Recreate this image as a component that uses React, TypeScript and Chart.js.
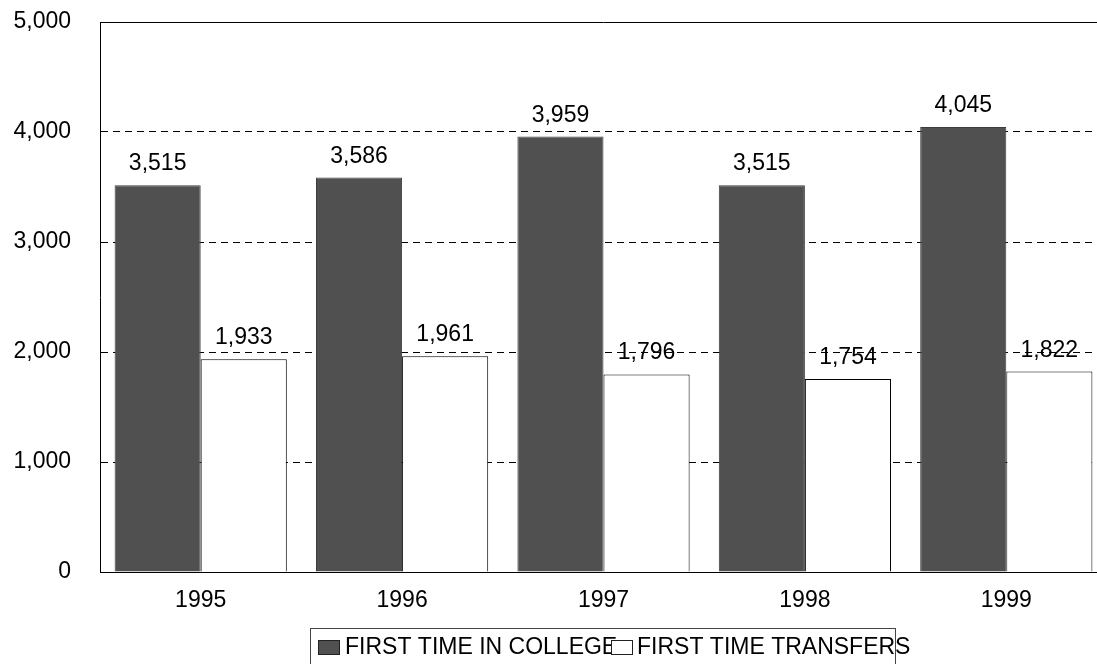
import React, { useEffect, useRef } from "react";
import { Chart, registerables } from "chart.js";

Chart.register(...registerables);

const years = ["1995", "1996", "1997", "1998", "1999"];
const firstTimeInCollege = [3515, 3586, 3959, 3515, 4045];
const firstTimeTransfers = [1933, 1961, 1796, 1754, 1822];
const seriesNames = ["FIRST TIME IN COLLEGE", "FIRST TIME TRANSFERS"];
const yMin = 0;
const yMax = 5000;
const yStep = 1000;

const FONT = "'Liberation Sans', Arial, sans-serif";
const fmt = (v: number) => v.toLocaleString("en-US");

const topBorderPlugin = {
  id: "topBorder",
  afterDraw(chart: any) {
    const { ctx, chartArea } = chart;
    ctx.save();
    ctx.strokeStyle = "#000";
    ctx.lineWidth = 1;
    ctx.beginPath();
    const y = Math.round(chartArea.top) + 0.5;
    ctx.moveTo(chartArea.left, y);
    ctx.lineTo(chartArea.right, y);
    ctx.stroke();
    ctx.restore();
  },
};

const dataLabelPlugin = {
  id: "dataLabels",
  afterDatasetsDraw(chart: any) {
    const { ctx } = chart;
    ctx.save();
    ctx.font = `23px ${FONT}`;
    ctx.fillStyle = "#000";
    ctx.textAlign = "center";
    ctx.textBaseline = "alphabetic";
    chart.data.datasets.forEach((ds: any, i: number) => {
      const meta = chart.getDatasetMeta(i);
      meta.data.forEach((el: any, j: number) => {
        ctx.fillText(fmt(ds.data[j]), el.x, el.y - 15);
      });
    });
    ctx.restore();
  },
};

const legendPlugin = {
  id: "customLegend",
  afterDraw(chart: any) {
    const { ctx } = chart;
    ctx.save();
    ctx.strokeStyle = "#444";
    ctx.lineWidth = 1;
    ctx.strokeRect(310.5, 628.5, 585, 60);
    const items = [
      { sx: 318.5, tx: 345, fill: "#505050" },
      { sx: 611.5, tx: 637, fill: "#ffffff" },
    ];
    ctx.font = `23px ${FONT}`;
    ctx.textBaseline = "alphabetic";
    ctx.textAlign = "left";
    items.forEach((it, i) => {
      ctx.fillStyle = "#000";
      ctx.fillText(seriesNames[i], it.tx, 653.5);
      ctx.fillStyle = it.fill;
      ctx.fillRect(it.sx, 640.5, 21, 14);
      ctx.strokeStyle = "#222";
      ctx.strokeRect(it.sx, 640.5, 21, 14);
    });
    ctx.restore();
  },
};

export default function App() {
  const canvasRef = useRef<HTMLCanvasElement | null>(null);

  useEffect(() => {
    document.body.style.margin = "0";
    const canvas = canvasRef.current;
    if (!canvas) return;
    const chart = new Chart(canvas, {
      type: "bar",
      data: {
        labels: years,
        datasets: [
          {
            label: seriesNames[0],
            data: firstTimeInCollege,
            backgroundColor: "#505050",
            borderColor: "#3c3c3c",
            borderWidth: 1,
          },
          {
            label: seriesNames[1],
            data: firstTimeTransfers,
            backgroundColor: "#ffffff",
            borderColor: "#000000",
            borderWidth: 1,
          },
        ],
      },
      options: {
        responsive: false,
        animation: false,
        devicePixelRatio: 1,
        layout: { padding: { top: 22, right: 0, bottom: 0, left: 0 } },
        datasets: {
          bar: { categoryPercentage: 0.855, barPercentage: 1 },
        },
        plugins: {
          legend: { display: false },
          tooltip: { enabled: false },
        },
        scales: {
          x: {
            grid: { display: false, drawTicks: false },
            border: { display: true, color: "#000", width: 1 },
            ticks: {
              color: "#000",
              font: { family: FONT, size: 23 },
              padding: 15,
              maxRotation: 0,
            },
            afterFit(scale: any) {
              scale.height = 92;
              scale.paddingLeft = 0;
              scale.paddingRight = 0;
            },
          },
          y: {
            min: yMin,
            max: yMax,
            grid: {
              drawTicks: false,
              color: (c: any) =>
                c.tick && (c.tick.value === yMin || c.tick.value === yMax)
                  ? "rgba(0,0,0,0)"
                  : "#000",
              lineWidth: 1,
            },
            border: { display: true, color: "#000", width: 1, dash: [7, 5] },
            ticks: {
              stepSize: yStep,
              color: "#000",
              font: { family: FONT, size: 23 },
              padding: 29,
              callback: (v: any) => fmt(Number(v)),
            },
            afterFit(scale: any) {
              scale.width = 100;
              scale.paddingTop = 0;
              scale.paddingBottom = 0;
            },
          },
        },
      },
      plugins: [topBorderPlugin, dataLabelPlugin, legendPlugin],
    });
    return () => chart.destroy();
  }, []);

  return (
    <div
      style={{
        position: "absolute",
        left: 0,
        top: 0,
        width: 1097,
        height: 664,
        overflow: "hidden",
        background: "#fff",
      }}
    >
      <canvas ref={canvasRef} width={1107} height={664} />
    </div>
  );
}
